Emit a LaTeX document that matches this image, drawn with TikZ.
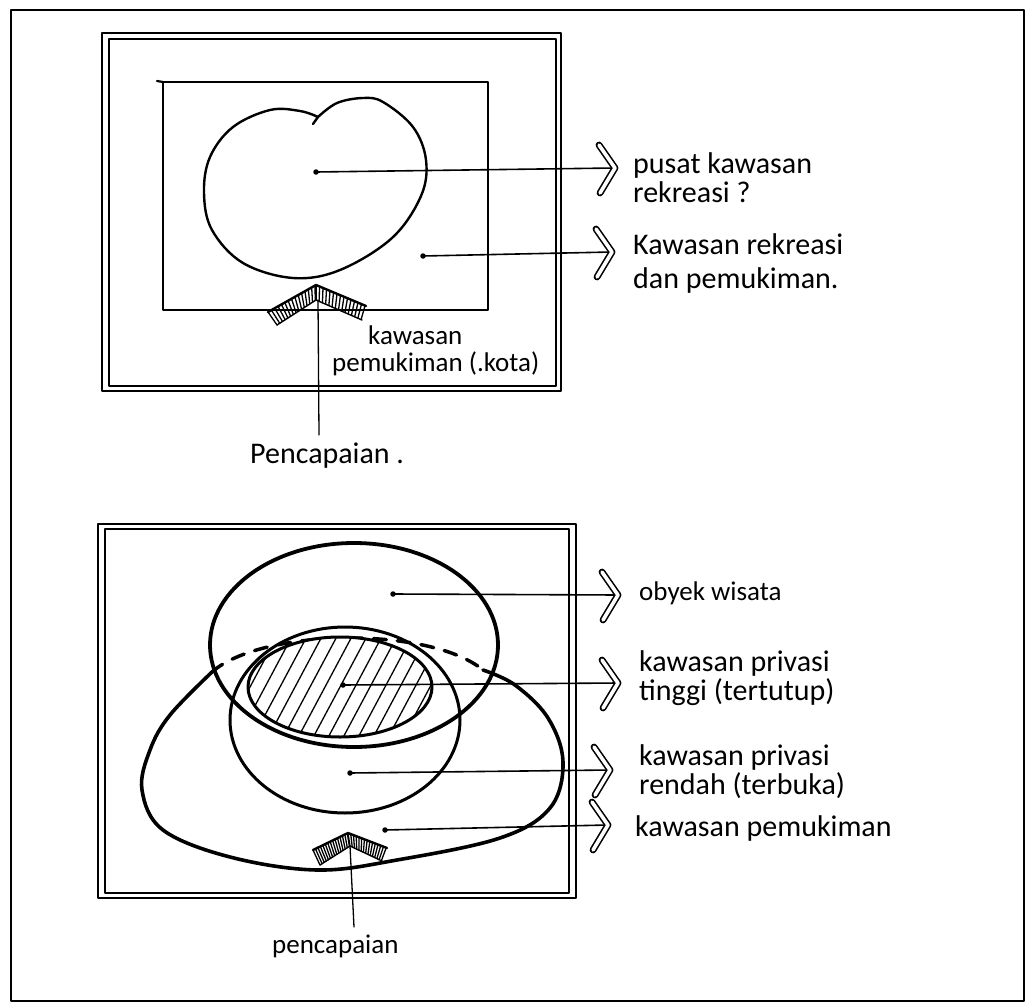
\documentclass[tikz,border=0pt]{standalone}
\usepackage{fontspec}
\setmainfont{Carlito}
\usetikzlibrary{patterns.meta,calc}
\newcommand\mychev[1]{\draw[chevst,shift={(#1)}] (-16,-23) -- (0,0) -- (-15,25);}
\newcommand\myroof[6]{%
  % #1,#2,#3 upper edge (left, apex, right); #4,#5,#6 lower edge
  \foreach \t in {0,0.07,...,1.01}{
    \draw[line width=1.3pt] ($(#1)!\t!(#2)$) -- ($(#4)!\t!(#5)$);
    \draw[line width=1.3pt] ($(#2)!\t!(#3)$) -- ($(#5)!\t!(#6)$);
  }
  \draw[line width=2.4pt] (#1) -- (#2) -- (#3);
  \draw[line width=1.4pt] (#4) -- (#5) -- (#6);
}
\begin{document}
\begin{tikzpicture}[x=1pt,y=-1pt,line cap=round,line join=round,
  lab/.style={anchor=base west,inner sep=0pt,align=left,font=\fontsize{30}{29}\selectfont},
  labw/.style={lab,font=\fontsize{30}{34}\selectfont},
  labs/.style={lab,font=\fontsize{27}{27}\selectfont},
  ptr/.style={line width=1.6pt},
  dotm/.style={circle,fill,inner sep=0pt,minimum size=5.5pt},
  chevst/.style={double,double distance=3.6pt,line width=1.6pt},
  frame/.style={line width=2.6pt},
  frameinner/.style={line width=1.2pt}]
\useasboundingbox (0,0) rectangle (1028,1006);
\fill[white] (0,0) rectangle (1028,1006);
% page frame
\draw[line width=2pt] (11,10) rectangle (1024,1001);

% ================= TOP DIAGRAM =================
\draw[frame] (102,33) rectangle (561,391);
\draw[frameinner] (109,39) rectangle (556,386);
\draw[line width=2.2pt] (163,82) rectangle (488,310);
\draw[line width=2.2pt] (157,81) -- (163,82);
% heart-shaped centre
\draw[line width=2.4pt] plot[smooth,tension=0.6] coordinates {(318,117) (300,111) (270,110) (233,127) (210,157) (204,193) (212,230) (243,263) (293,278) (340,270) (392,238) (421,196) (426,160) (413,127) (383,102) (363,98) (337,103) (318,117)} -- (313,124);
% roof / access
\coordinate (r1a) at (268,312); \coordinate (r1b) at (316,285); \coordinate (r1c) at (366,306);
\coordinate (r1d) at (277,325); \coordinate (r1e) at (316,300); \coordinate (r1f) at (362,320);
\myroof{r1a}{r1b}{r1c}{r1d}{r1e}{r1f}
% pointers
\node[dotm] (d1) at (316,172) {};
\coordinate (t1) at (615,168);
\draw[ptr] (d1.center) -- (t1); \mychev{t1}
\node[dotm] (d2) at (423,256) {};
\coordinate (t2) at (612,252);
\draw[ptr] (d2.center) -- (t2); \mychev{t2}
\coordinate (p1) at (318,300);
\coordinate (p1end) at (319,435);
\draw[line width=1.3pt] (p1) -- (p1end);
% labels (base anchor = baseline of the last line)
\node[lab] (l1) at (633,202) {pusat kawasan\\rekreasi ?};
\node[labw] (l2) at (633,288) {Kawasan rekreasi\\dan pemukiman.};
\node[labs] (l3) at (332,371) {\hspace*{36pt}kawasan\\pemukiman (.kota)};
\node[lab] (l4) at (250,463) {Pencapaian .};

% ================= BOTTOM DIAGRAM =================
\draw[frame] (98,524) rectangle (576,898);
\draw[frameinner] (105,529) rectangle (569,893);
% settlement area (top part dashed)
\draw[line width=3.5pt,dash pattern=on 13pt off 11pt] (212,672) .. controls (262,628) and (430,626) .. (483,670);
\draw[line width=3.6pt] plot[smooth,tension=0.6] coordinates {(483,670) (515,685) (548,718) (563,762) (550,808) (500,838) (397,860) (317,870) (230,857) (163,830) (142,790) (150,750) (170,715) (212,672)};
% tourism object
\draw[line width=3.8pt] (354,645) ellipse [x radius=144pt,y radius=102pt];
% low privacy
\draw[line width=3pt] (345,720) ellipse [x radius=115pt,y radius=93pt];
% high privacy (hatched)
\fill[white] (340,687) ellipse [x radius=92pt,y radius=50pt];
\begin{scope}
  \clip (340,687) ellipse [x radius=92pt,y radius=50pt];
  \foreach \k in {-9,...,9}{
    \draw[line width=1.3pt] ($(340,687)+(\k*15,0)+(-40,75)$) -- ($(340,687)+(\k*15,0)+(40,-75)$);
  }
\end{scope}
\draw[line width=3pt] (340,687) ellipse [x radius=92pt,y radius=50pt];
% roof / access
\coordinate (r2a) at (313,850); \coordinate (r2b) at (348,833); \coordinate (r2c) at (387,848);
\coordinate (r2d) at (320,865); \coordinate (r2e) at (350,846); \coordinate (r2f) at (382,861);
\myroof{r2a}{r2b}{r2c}{r2d}{r2e}{r2f}
\coordinate (p2) at (350,846);
\coordinate (p2end) at (354,927);
\draw[line width=1.3pt] (p2) -- (p2end);
% pointers
\node[dotm] (d3) at (393,594) {};
\coordinate (t3) at (618,595);
\draw[ptr] (d3.center) -- (t3); \mychev{t3}
\node[dotm] (d4) at (343,685) {};
\coordinate (t4) at (618,683);
\draw[ptr] (d4.center) -- (t4); \mychev{t4}
\node[dotm] (d5) at (350,773) {};
\coordinate (t5) at (610,770);
\draw[ptr] (d5.center) -- (t5); \mychev{t5}
\node[dotm] (d6) at (385,830) {};
\coordinate (t6) at (608,825);
\draw[ptr] (d6.center) -- (t6); \mychev{t6}
% labels
\node[labs] (l5) at (639,600) {obyek wisata};
\node[lab] (l6) at (639,700) {kawasan privasi\\tinggi (tertutup)};
\node[lab] (l7) at (639,794) {kawasan privasi\\rendah (terbuka)};
\node[lab] (l8) at (635,836) {kawasan pemukiman};
\node[labs] (l9) at (272,953) {pencapaian};
\end{tikzpicture}
\end{document}
